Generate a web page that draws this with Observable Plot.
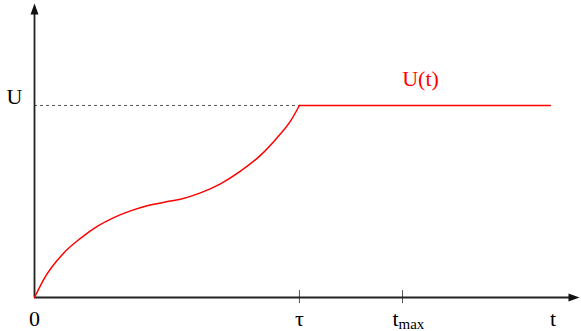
<!DOCTYPE html>
<html>
<head>
<meta charset="utf-8">
<script src="https://cdn.jsdelivr.net/npm/d3@7"></script>
<script src="https://cdn.jsdelivr.net/npm/@observablehq/plot@0.6"></script>
<style>
  html, body { margin: 0; padding: 0; background: #fff; }
  svg { display: block; }
  svg text, svg g { font-family: "Liberation Serif", "Times New Roman", "DejaVu Serif", serif !important; }
</style>
</head>
<body>
<div id="chart"></div>
<script>
// Rising phase of U(t): time (τ = 10) and level (U = 1)
const riseT = [0, 0.35, 1.106, 1.736, 2.366, 2.992, 3.623, 4.253, 5.132, 5.509, 6.264, 7.019, 7.774, 8.528, 9.158, 9.66, 10];
const riseU = [0, 0.095, 0.232, 0.308, 0.370, 0.416, 0.451, 0.478, 0.502, 0.512, 0.545, 0.592, 0.658, 0.740, 0.832, 0.918, 1];
// Holding phase
const holdT = [10, 19.47];
const holdU = [1, 1];

const tau = 10;
const tMax = 13.89;
const uLevel = 1;
const xMax = 20.57;
const yMax = 1.531;

// Tick labels on the time axis
const tickPos = [0, tau, 19.57];
const tickLabels = ["0", "τ", "t"];
const tickMarks = [tau, tMax];

const curve = [
  ...riseT.map((t, i) => ({t, u: riseU[i], part: "rise"})),
  ...holdT.map((t, i) => ({t, u: holdU[i], part: "hold"}))
];

const arrowHead = {
  draw(context) {
    // tip at origin, body pointing down
    context.moveTo(0, 0);
    context.lineTo(4, 11);
    context.lineTo(-4, 11);
    context.closePath();
  }
};

const font = "\"Liberation Serif\", \"Times New Roman\", \"DejaVu Serif\", serif";

const chart = Plot.plot({
  width: 581,
  height: 331,
  marginLeft: 34,
  marginRight: 2,
  marginTop: 3,
  marginBottom: 34,
  style: {fontFamily: font, background: "#fff"},
  x: {domain: [0, xMax], axis: null},
  y: {domain: [0, yMax], axis: null},
  marks: [
    Plot.ruleY([uLevel], {x1: 0, x2: tau, stroke: "#555", strokeWidth: 1, strokeDasharray: "3,3"}),
    Plot.ruleX(tickMarks, {y1: -0.032, y2: 0.036, stroke: "#555", strokeWidth: 1}),
    Plot.ruleY([0], {x1: 0, x2: xMax - 0.2, stroke: "#222", strokeWidth: 1.8}),
    Plot.ruleX([0], {y1: 0, y2: yMax - 0.02, stroke: "#222", strokeWidth: 1.8}),
    Plot.dot([{x: 0, y: yMax}], {x: "x", y: "y", symbol: arrowHead, r: 5, fill: "#111", stroke: null}),
    Plot.dot([{x: xMax, y: 0}], {x: "x", y: "y", symbol: arrowHead, r: 5, rotate: 90, fill: "#111", stroke: null}),
    Plot.line(curve, {x: "t", y: "u", z: "part", curve: "monotone-x", stroke: "#ff0000", strokeWidth: 1.5}),
    Plot.text(tickLabels, {x: (d, i) => tickPos[i], y: 0, text: d => d, dy: 28, lineAnchor: "bottom", fontSize: 22, fill: "#000", fontFamily: font}),
    Plot.text(["t"], {x: tMax, y: 0, text: d => d, dx: -4, dy: 28, textAnchor: "end", lineAnchor: "bottom", fontSize: 22, fill: "#000", fontFamily: font}),
    Plot.text(["max"], {x: tMax, y: 0, text: d => d, dx: -4, dy: 31, textAnchor: "start", lineAnchor: "bottom", fontSize: 15, fill: "#000", fontFamily: font}),
    Plot.text(["U"], {x: 0, y: uLevel, text: d => d, dx: -20, dy: -1, lineAnchor: "bottom", fontSize: 22, fill: "#000", fontFamily: font}),
    Plot.text(["U(t)"], {x: 14.57, y: uLevel, text: d => d, dy: -19, lineAnchor: "bottom", fontSize: 22, fill: "#ff0000", fontFamily: font})
  ]
});
document.getElementById("chart").appendChild(chart);
</script>
</body>
</html>
